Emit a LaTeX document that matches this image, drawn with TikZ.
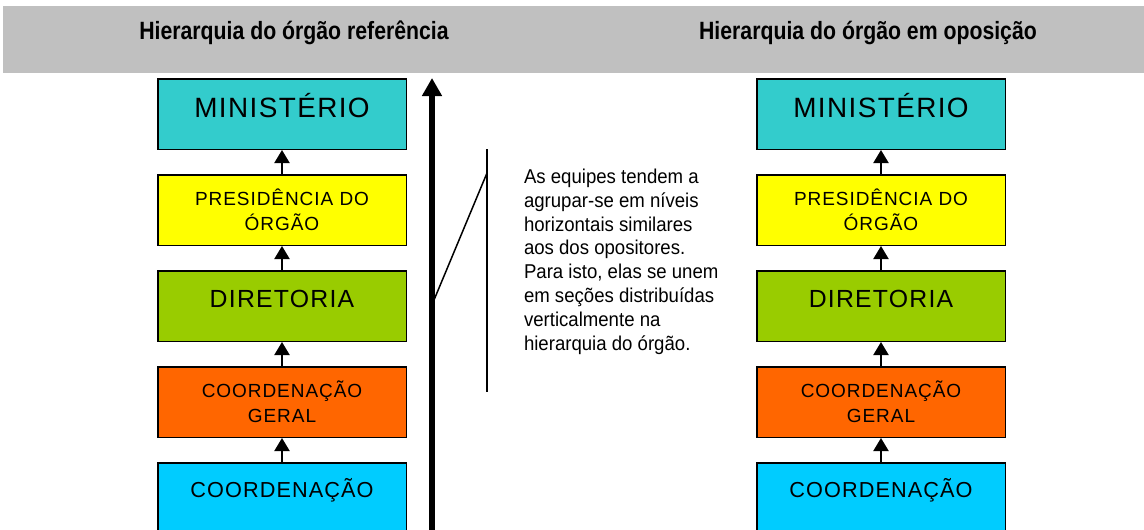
\documentclass[tikz,border=0pt]{standalone}
\usepackage{fontspec}
\setmainfont{Liberation Sans}
\newfontfamily\titlefont{Liberation Sans}[FakeStretch=0.85]
\newfontfamily\notefont{Liberation Sans}[FakeStretch=0.93]
\newfontfamily\boxfont{Liberation Sans}[LetterSpace=5]
\usetikzlibrary{arrows.meta,positioning}
\definecolor{band}{HTML}{C0C0C0}
\definecolor{ministerio}{HTML}{33CCCC}
\definecolor{presidencia}{HTML}{FFFF00}
\definecolor{diretoria}{HTML}{99CC00}
\definecolor{coordgeral}{HTML}{FF6600}
\definecolor{coord}{HTML}{00CCFF}

\begin{document}
\begin{tikzpicture}[x=1pt,y=-1pt,->,>={Triangle[width=15pt,length=13pt]},
                    node distance=24pt,line width=2pt]
  \tikzstyle{orgbox}=[draw=black,line width=1.5pt,minimum width=248.5pt,
                      minimum height=70.5pt,inner sep=0pt,align=center]
  \tikzstyle{bigtext}=[font=\boxfont\fontsize{27.9}{32}\selectfont,text height=20pt,text depth=13pt]
  \tikzstyle{midtext}=[font=\boxfont\fontsize{24.8}{29}\selectfont,text height=18pt,text depth=14.2pt]
  \tikzstyle{lowtext}=[font=\boxfont\fontsize{21.7}{25}\selectfont,text height=16pt,text depth=17.4pt]
  \tikzstyle{twotext}=[font=\boxfont\fontsize{19}{25}\selectfont]
  \tikzstyle{title}=[font=\titlefont\bfseries\fontsize{25}{30}\selectfont,inner sep=0pt]

  \useasboundingbox (0,0) rectangle (1144,530);
  \clip (0,0) rectangle (1144,530);

  % faixa dos titulos
  \fill[band] (3,6) rectangle (1144,73);
  \node[title] (TL) at (294,33) {Hierarquia do órgão referência};
  \node[title] (TR) at (868,33) {Hierarquia do órgão em oposição};

  % coluna da esquerda
  \node[orgbox,lowtext,fill=coord]       (COORDL) at (282,498)   {COORDENAÇÃO};
  \node[orgbox,twotext,fill=coordgeral]  (CGL)   [above=of COORDL] {COORDENAÇÃO\\GERAL};
  \node[orgbox,midtext,fill=diretoria]   (DIRL)  [above=of CGL]    {DIRETORIA};
  \node[orgbox,twotext,fill=presidencia] (PRESL) [above=of DIRL]   {PRESIDÊNCIA DO\\ÓRGÃO};
  \node[orgbox,bigtext,fill=ministerio]  (MINL)  [above=of PRESL]  {MINISTÉRIO};

  % coluna da direita
  \node[orgbox,lowtext,fill=coord]       (COORDR) at (881,498)   {COORDENAÇÃO};
  \node[orgbox,twotext,fill=coordgeral]  (CGR)   [above=of COORDR] {COORDENAÇÃO\\GERAL};
  \node[orgbox,midtext,fill=diretoria]   (DIRR)  [above=of CGR]    {DIRETORIA};
  \node[orgbox,twotext,fill=presidencia] (PRESR) [above=of DIRR]   {PRESIDÊNCIA DO\\ÓRGÃO};
  \node[orgbox,bigtext,fill=ministerio]  (MINR)  [above=of PRESR]  {MINISTÉRIO};

  \path (COORDL) edge (CGL)
        (CGL)    edge (DIRL)
        (DIRL)   edge (PRESL)
        (PRESL)  edge (MINL)
        (COORDR) edge (CGR)
        (CGR)    edge (DIRR)
        (DIRR)   edge (PRESR)
        (PRESR)  edge (MINR);

  % eixo vertical
  \coordinate (AXB) at (432,535);
  \coordinate (AXT) at (432,78);
  \draw[line width=5.5pt,-{Triangle[width=19pt,length=18pt]}] (AXB) -- (AXT);

  % chamada
  \coordinate (NT) at (487,149);
  \coordinate (NB) at (487,392);
  \coordinate (NH) at (487,173);
  \coordinate (NF) at (434,300);
  \draw[-,line width=1.5pt] (NT) -- (NB);
  \draw[-,line width=1.5pt] (NH) -- (NF);
  \node[anchor=north west,inner sep=0pt,align=left,
        font=\notefont\fontsize{20}{23.8}\selectfont] (NOTE) at (523,168)
    {As equipes tendem a\\agrupar-se em níveis\\horizontais similares\\aos dos opositores.\\
     Para isto, elas se unem\\em seções distribuídas\\verticalmente na\\hierarquia do órgão.};
\end{tikzpicture}
\end{document}
